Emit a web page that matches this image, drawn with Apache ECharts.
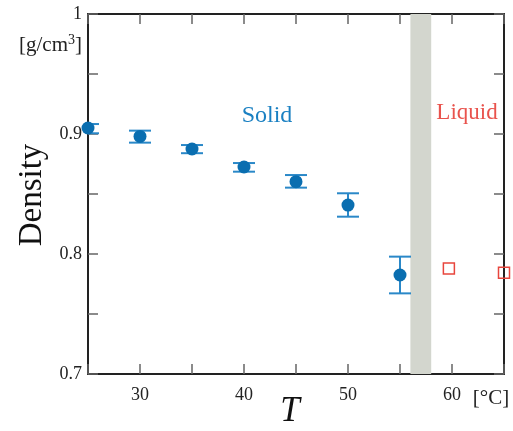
<!DOCTYPE html>
<html>
<head>
<meta charset="utf-8">
<script src="https://cdn.jsdelivr.net/npm/echarts@6/dist/echarts.min.js"></script>
<style>
  html, body { margin: 0; padding: 0; background: #fff; }
  #chart-container { width: 513px; height: 431px; }
</style>
</head>
<body>
<div id="chart-container"></div>
<script>
var dom = document.getElementById('chart-container');
var myChart = echarts.init(dom, null, { renderer: 'canvas' });

// solid phase measurements
var solidTemp = [25, 30, 35, 40, 45, 50, 55];
var solidDensity = [0.905, 0.898, 0.8875, 0.8725, 0.8603, 0.8408, 0.7825];
var solidLow = [0.9006, 0.8928, 0.884, 0.8686, 0.8553, 0.8311, 0.7672];
var solidHigh = [0.9083, 0.9028, 0.8908, 0.8758, 0.8658, 0.8506, 0.7978];

// liquid phase measurements
var liquidTemp = [59.7, 65];
var liquidDensity = [0.788, 0.7844];

// melting range (grey band)
var meltRange = [56, 58];

var xTickLabels = [30, 40, 50, 60];
var yTickLabels = [0.7, 0.8, 0.9, 1];

var serif = '"Liberation Serif", "DejaVu Serif", serif';
var blue = '#0a6eb0';
var barBlue = '#2a88c8';
var red = '#e8453d';

var solidPoints = solidTemp.map(function (t, i) { return [t, solidDensity[i]]; });
var solidErr = solidTemp.map(function (t, i) { return [t, solidLow[i], solidHigh[i]]; });
var liquidPoints = liquidTemp.map(function (t, i) { return [t, liquidDensity[i]]; });

function renderErr(params, api) {
  var x = api.value(0);
  var lo = api.coord([x, api.value(1)]);
  var hi = api.coord([x, api.value(2)]);
  var w = 11;
  var style = { stroke: barBlue, lineWidth: 2 };
  return {
    type: 'group',
    children: [
      { type: 'line', shape: { x1: lo[0], y1: lo[1], x2: hi[0], y2: hi[1] }, style: style },
      { type: 'line', shape: { x1: lo[0] - w, y1: lo[1], x2: lo[0] + w, y2: lo[1] }, style: style },
      { type: 'line', shape: { x1: hi[0] - w, y1: hi[1], x2: hi[0] + w, y2: hi[1] }, style: style }
    ]
  };
}

var axisLine = { lineStyle: { color: '#222', width: 2 } };
var tick = { inside: true, length: 10, lineStyle: { color: '#666', width: 1.5 } };

var option = {
  animation: false,
  backgroundColor: '#fff',
  grid: { left: 88, right: 9, top: 14, bottom: 57 },
  xAxis: [
    {
      type: 'value', min: 25, max: 65, interval: 5,
      axisLine: axisLine, axisTick: tick, splitLine: { show: false },
      axisLabel: {
        margin: 12, color: '#222', fontFamily: serif, fontSize: 18,
        formatter: function (v) { return xTickLabels.indexOf(v) >= 0 ? String(v) : ''; }
      }
    },
    {
      type: 'value', position: 'top', min: 25, max: 65, interval: 5,
      axisLine: axisLine, axisTick: tick, splitLine: { show: false },
      axisLabel: { show: false }
    }
  ],
  yAxis: [
    {
      type: 'value', min: 0.7, max: 1, interval: 0.05,
      axisLine: axisLine, axisTick: tick, splitLine: { show: false },
      axisLabel: {
        margin: 6, color: '#222', fontFamily: serif, fontSize: 18,
        formatter: function (v) {
          for (var i = 0; i < yTickLabels.length; i++) {
            if (Math.abs(v - yTickLabels[i]) < 1e-6) return v === 1 ? '1' : yTickLabels[i].toFixed(1);
          }
          return '';
        }
      }
    },
    {
      type: 'value', position: 'right', min: 0.7, max: 1, interval: 0.05,
      axisLine: axisLine, axisTick: tick, splitLine: { show: false },
      axisLabel: { show: false }
    }
  ],
  series: [
    {
      type: 'line',
      data: [],
      markArea: {
        silent: true,
        itemStyle: { color: '#d3d6ce' },
        data: [[{ xAxis: meltRange[0] }, { xAxis: meltRange[1] }]]
      }
    },
    {
      type: 'custom',
      clip: true,
      renderItem: renderErr,
      data: solidErr,
      z: 3
    },
    {
      type: 'scatter',
      symbol: 'circle',
      symbolSize: 13,
      itemStyle: { color: blue, opacity: 1 },
      data: solidPoints,
      clip: false,
      z: 4
    },
    {
      type: 'scatter',
      symbol: 'rect',
      symbolSize: 11,
      itemStyle: { color: 'rgba(255,255,255,0)', borderColor: red, borderWidth: 1.5, opacity: 1 },
      data: liquidPoints,
      clip: false,
      z: 4
    }
  ],
  graphic: [
    {
      type: 'text', x: 82, y: 45,
      style: {
        text: '[g/cm{sup|3}]', font: '21px ' + serif, fill: '#222', align: 'right', verticalAlign: 'middle',
        rich: { sup: { fontSize: 14, fontFamily: serif, fill: '#222', padding: [0, 0, 10, 0] } }
      }
    },
    {
      type: 'text', x: 491, y: 398,
      style: { text: '[\u00b0C]', font: '21px ' + serif, fill: '#222', align: 'center', verticalAlign: 'middle' }
    },
    {
      type: 'text', x: 32, y: 195, rotation: Math.PI / 2,
      style: { text: 'Density', font: '33px ' + serif, fill: '#111', align: 'center', verticalAlign: 'middle' }
    },
    {
      type: 'text', x: 290, y: 412,
      style: { text: 'T', font: 'italic 35px ' + serif, fill: '#111', align: 'center', verticalAlign: 'middle' }
    },
    {
      type: 'text', x: 267, y: 116,
      style: { text: 'Solid', font: '24px ' + serif, fill: '#1a80c2', align: 'center', verticalAlign: 'middle' }
    },
    {
      type: 'text', x: 467, y: 113,
      style: { text: 'Liquid', font: '23px ' + serif, fill: '#e9534d', align: 'center', verticalAlign: 'middle' }
    }
  ]
};

myChart.setOption(option);
window.addEventListener('resize', myChart.resize);
</script>
</body>
</html>
